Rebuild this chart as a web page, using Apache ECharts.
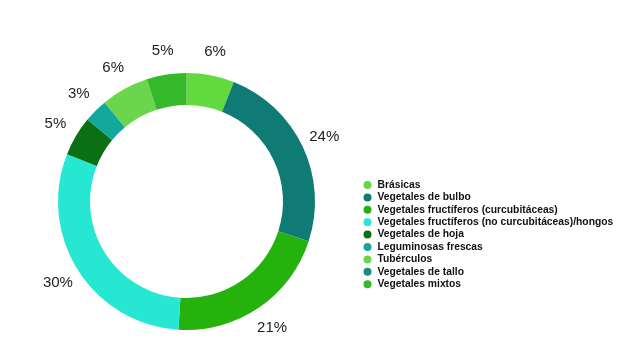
<!DOCTYPE html>
<html>
<head>
<meta charset="utf-8">
<script src="https://cdn.jsdelivr.net/npm/echarts@6/dist/echarts.min.js"></script>
<style>
  html, body { margin: 0; padding: 0; background: #fff; }
  #chart { width: 624px; height: 357px; }
</style>
</head>
<body>
<div id="chart"></div>
<script>
// categorías y porcentajes (orden horario desde arriba)
const categories = [
  'Brásicas',
  'Vegetales de bulbo',
  'Vegetales fructíferos (curcubitáceas)',
  'Vegetales fructíferos (no curcubitáceas)/hongos',
  'Vegetales de hoja',
  'Leguminosas frescas',
  'Tubérculos',
  'Vegetales de tallo',
  'Vegetales mixtos'
]
const percents = [6, 24, 21, 30, 5, 3, 6, 0, 5]
const colors = ['#62d93f', '#0f7b74', '#25b20c', '#25e7d2', '#0b6f16', '#14a89d', '#6bd64b', '#1b8a85', '#33b92a']

const chart = echarts.init(document.getElementById('chart'))

const sliceData = categories.map((name, i) => ({
  name: name,
  value: percents[i],
  itemStyle: { color: colors[i] }
}))

const option = {
  animation: false,
  legend: {
    orient: 'vertical',
    left: 363.5,
    top: 179,
    padding: 0,
    icon: 'circle',
    itemWidth: 10,
    itemHeight: 8,
    itemGap: 0.4,
    selectedMode: false,
    data: categories,
    textStyle: {
      fontFamily: 'Liberation Sans, Arial, sans-serif',
      fontSize: 10.3,
      fontWeight: 'bold',
      color: '#111',
      lineHeight: 12
    }
  },
  series: [
    {
      type: 'pie',
      center: [186.5, 201.5],
      radius: [96.5, 128.5],
      startAngle: 90,
      clockwise: true,
      silent: true,
      label: { show: false },
      labelLine: { show: false },
      data: sliceData
    },
    {
      // anillo transparente sólo para colocar las etiquetas
      type: 'pie',
      center: [186.5, 201.5],
      radius: [128.5, 170],
      startAngle: 90,
      clockwise: true,
      silent: true,
      itemStyle: { color: 'transparent' },
      labelLine: { show: false },
      label: {
        show: true,
        position: 'inside',
        fontFamily: 'Liberation Sans, Arial, sans-serif',
        fontSize: 15,
        color: '#222',
        formatter: (p) => (p.value > 0 ? p.value + '%' : '')
      },
      data: categories.map((name, i) => ({ name: name, value: percents[i] }))
    }
  ]
}

chart.setOption(option)
</script>
</body>
</html>
